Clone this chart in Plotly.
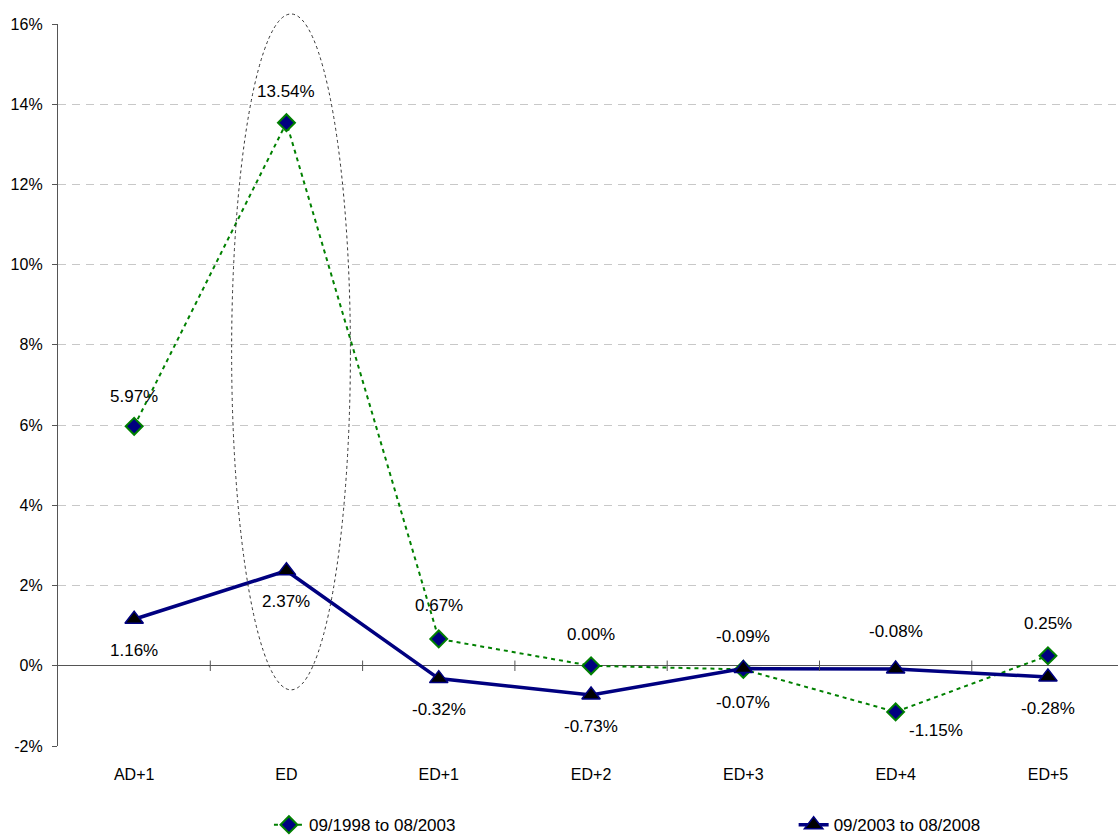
import plotly.graph_objects as go

# Event-window categories and average abnormal returns (%)
categories = ["AD+1", "ED", "ED+1", "ED+2", "ED+3", "ED+4", "ED+5"]
returns_1998_2003 = [5.97, 13.54, 0.67, 0.00, -0.09, -1.15, 0.25]
returns_2003_2008 = [1.16, 2.37, -0.32, -0.73, -0.07, -0.08, -0.28]
series_names = ["09/1998 to 08/2003", "09/2003 to 08/2008"]
y_ticks = [-2, 0, 2, 4, 6, 8, 10, 12, 14, 16]

# label offsets (dx, dy in px) for each point's value label
green_offsets = [(0, 30), (0, 31), (0, 33), (0, 31), (0, 33), (40, -19), (0, 32)]
blue_offsets = [(0, -31), (0, -31), (0, -31), (0, -31), (0, -34), (0, 37), (0, -31)]

GREEN = "#008000"
NAVY = "#000080"
FONT = "Liberation Sans, Arial, sans-serif"

Y_MIN, Y_MAX = y_ticks[0], y_ticks[-1]
x_idx = list(range(len(categories)))


def to_paper(v):
    return (v - Y_MIN) / (Y_MAX - Y_MIN)


fig = go.Figure()
fig.add_trace(go.Scatter(
    x=x_idx, y=returns_1998_2003, name=series_names[0], mode="lines+markers",
    line=dict(color=GREEN, width=2, dash="4px,4px"),
    marker=dict(symbol="diamond", size=13, color=NAVY, line=dict(color=GREEN, width=2)),
    legend="legend",
))
fig.add_trace(go.Scatter(
    x=x_idx, y=returns_2003_2008, name=series_names[1], mode="lines+markers",
    line=dict(color=NAVY, width=3.5),
    marker=dict(symbol="triangle-up", size=16, color="black", line=dict(color=NAVY, width=1.5)),
    legend="legend2",
))

annotations = []
for vals, offs in ((returns_1998_2003, green_offsets), (returns_2003_2008, blue_offsets)):
    for i, (v, (dx, dy)) in enumerate(zip(vals, offs)):
        annotations.append(dict(
            x=i, y=v, xref="x", yref="y", text=f"{v:.2f}%", showarrow=False,
            xshift=dx, yshift=dy, font=dict(family=FONT, size=17, color="black"),
        ))

shapes = []
# highlight ellipse around the event-day observations (paper y so it may overhang the top)
ed = categories.index("ED")
shapes.append(dict(
    type="circle", xref="x", yref="paper",
    x0=ed - 0.36, x1=ed + 0.42, y0=to_paper(-0.6), y1=to_paper(16.25),
    line=dict(color="#333333", width=1, dash="dot"),
))
# category divider ticks on the zero line
for k in range(1, len(categories)):
    shapes.append(dict(
        type="line", xref="x", yref="y", x0=k - 0.5, x1=k - 0.5, y0=-0.13, y1=0.13,
        line=dict(color="#555555", width=1),
    ))

legend_style = dict(yref="container", y=0.013, xanchor="left", yanchor="middle",
                    orientation="h", font=dict(size=17), bgcolor="rgba(0,0,0,0)")

fig.update_layout(
    width=1118, height=836,
    margin=dict(l=58, r=0, t=24, b=90, autoexpand=False),
    paper_bgcolor="white", plot_bgcolor="white",
    font=dict(family=FONT, size=16, color="black"),
    showlegend=True,
    legend=dict(x=0.199, **legend_style),
    legend2=dict(x=0.694, **legend_style),
    annotations=annotations,
    shapes=shapes,
)
fig.update_xaxes(
    range=[-0.5, len(categories) - 1 + 0.46],
    tickmode="array", tickvals=x_idx, ticktext=categories,
    showgrid=False, showline=False, zeroline=False,
    ticks="outside", ticklen=14, tickcolor="rgba(0,0,0,0)",
    tickfont=dict(family=FONT, size=16),
)
fig.update_yaxes(
    range=[Y_MIN, Y_MAX], tickmode="array", tickvals=y_ticks,
    ticktext=[f"{t}%" for t in y_ticks],
    showgrid=True, gridcolor="#c8c8c8", griddash="8px,6px", gridwidth=1,
    zeroline=True, zerolinecolor="#555555", zerolinewidth=1.3,
    showline=True, linecolor="#555555", linewidth=1.3,
    ticks="outside", ticklen=5, tickcolor="#555555",
    ticklabelstandoff=6, tickfont=dict(family=FONT, size=16),
)

fig.write_html("out.html")
